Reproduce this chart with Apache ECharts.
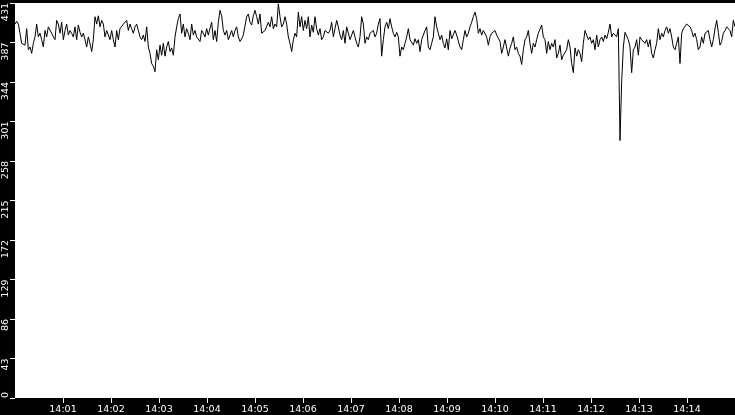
<!DOCTYPE html>
<html>
<head>
<meta charset="utf-8">
<script src="https://cdn.jsdelivr.net/npm/echarts@6/dist/echarts.min.js"></script>
<style>
html,body{margin:0;padding:0;background:#000;}
#chart{width:735px;height:415px;}
</style>
</head>
<body>
<div id="chart"></div>
<script>
// sample spacing in seconds after 14:00:00 (432 intervals over 15 minutes)
var sampleSeconds = 25 / 12;
var xTickLabels = ['14:00','14:01','14:02','14:03','14:04','14:05','14:06','14:07','14:08','14:09','14:10','14:11','14:12','14:13','14:14','14:15'];
var yTickLabels = ['0','43','86','129','172','215','258','301','344','387','431'];
var yStep = 43.1;
var values = [
 408,411,408,398,387,389,385,403,380,383,376,387,
 394,408,394,398,391,383,401,394,405,403,398,394,
 391,412,408,398,410,391,401,408,396,401,398,394,
 405,391,407,399,394,398,391,383,394,387,378,391,
 416,408,417,405,412,408,394,401,403,391,401,391,
 383,401,391,403,405,408,410,412,401,408,403,398,

 405,408,401,394,391,396,389,405,383,376,365,362,
 356,380,369,385,374,387,373,383,389,378,382,374,
 394,405,414,419,398,408,394,403,398,391,408,396,
 401,394,396,389,401,398,394,403,396,394,410,391,
 401,389,410,423,417,401,396,401,391,396,401,394,
 401,405,394,389,392,396,398,416,419,410,407,417,

 423,416,408,419,398,399,401,403,410,405,416,403,
 408,405,430,416,405,408,416,408,394,387,378,391,
 398,394,421,405,416,401,412,403,416,394,407,399,
 416,403,396,403,391,394,401,403,398,401,410,394,
 403,412,405,396,391,401,387,405,398,391,396,401,
 394,387,383,394,416,408,387,394,391,398,399,401,

 394,398,408,414,373,391,405,410,403,414,405,398,
 394,399,394,373,383,380,387,394,403,391,389,385,
 392,387,391,378,391,396,401,405,383,380,387,394,
 416,405,398,391,396,387,382,392,380,401,392,394,
 401,396,396,383,380,391,401,394,398,405,410,416,
 421,414,398,403,396,401,399,394,385,394,398,396,

 401,396,394,389,376,383,391,392,373,382,387,394,
 380,383,376,373,364,380,391,394,401,387,376,387,
 383,391,398,399,407,394,391,376,389,380,387,383,
 391,371,376,385,369,374,376,380,391,383,365,355,
 382,373,380,376,367,387,401,396,391,394,387,391,
 380,396,383,391,394,389,396,392,399,408,394,398,

 398,394,403,281,345,383,399,398,391,383,355,380,
 383,391,374,394,391,392,387,391,383,391,376,371,
 380,387,403,391,398,394,401,405,398,403,394,383,
 380,387,394,365,398,403,401,408,410,405,401,394,
 398,391,380,383,394,387,398,396,401,391,383,391,
 403,412,399,385,389,398,401,405,407,401,394,412,
 405
];

var data = values.map(function(v, i){ return [i * sampleSeconds, v]; });
var font = 'DejaVu Sans';

var chart = echarts.init(document.getElementById('chart'), null, {renderer:'canvas'});
chart.setOption({
  animation: false,
  backgroundColor: '#000',
  grid: {left: 15, right: 0, top: 0, bottom: 16, show: true, backgroundColor: '#fff', borderWidth: 0},
  xAxis: {
    type: 'value', min: 0, max: (xTickLabels.length - 1) * 60, interval: 60,
    splitLine: {show: false},
    axisLine: {show: false},
    axisTick: {show: true, length: 5, lineStyle: {color: '#fff', width: 1}},
    axisLabel: {
      color: '#fff', fontFamily: font, fontSize: 9.5, margin: 7,
      showMinLabel: false, showMaxLabel: false,
      formatter: function(v){ return xTickLabels[Math.round(v / 60)]; }
    }
  },
  yAxis: {
    type: 'value', min: 0, max: (yTickLabels.length - 1) * yStep, interval: yStep,
    splitLine: {show: false},
    axisLine: {show: false},
    axisTick: {show: true, length: 5, lineStyle: {color: '#fff', width: 1}},
    axisLabel: {
      color: '#fff', fontFamily: font, fontSize: 9.5, margin: 9, rotate: 90,
      align: 'right', verticalAlign: 'middle', alignMinLabel: 'left',
      formatter: function(v){ return yTickLabels[Math.round(v / yStep)]; }
    }
  },
  series: [{
    type: 'line', data: data, showSymbol: false, symbol: 'none',
    lineStyle: {color: '#000', width: 1}
  }]
});
</script>
</body>
</html>
